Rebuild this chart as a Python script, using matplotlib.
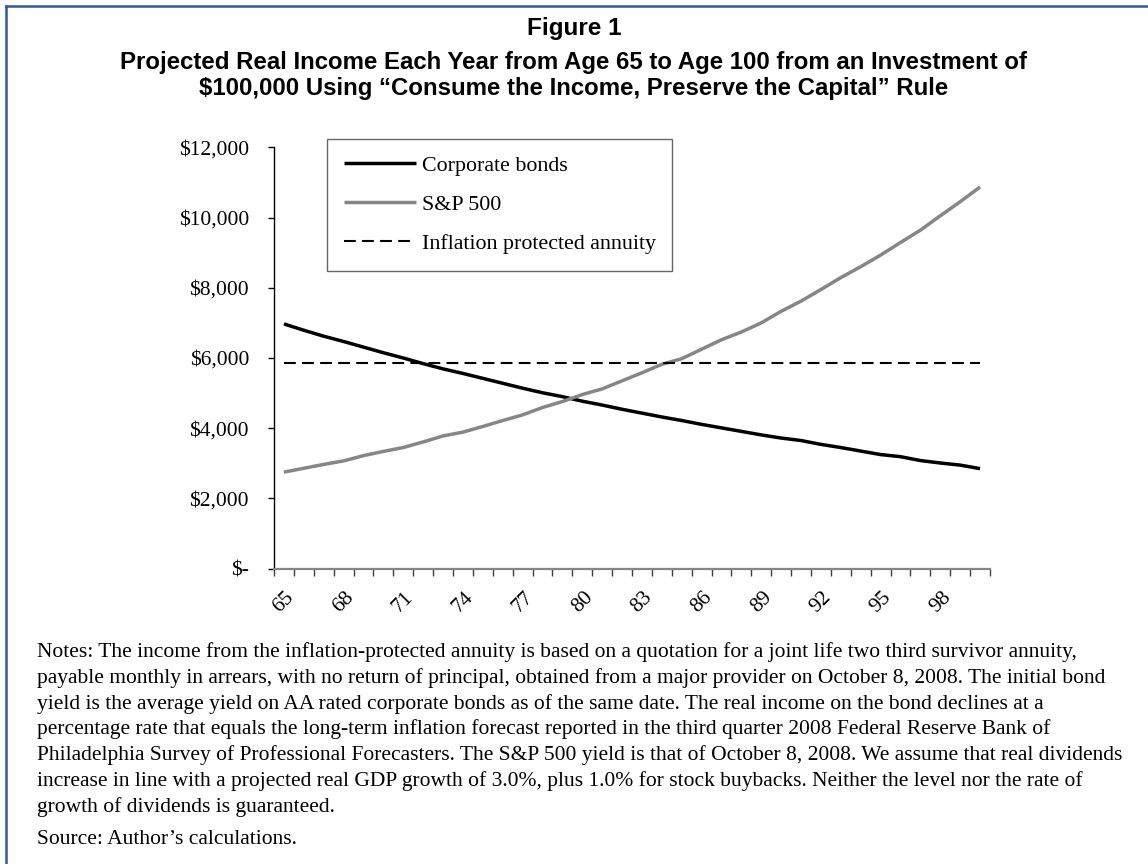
import numpy as np
import matplotlib
matplotlib.use('Agg')
import matplotlib.pyplot as plt
from matplotlib.lines import Line2D

# -------------------- Data --------------------
AGES = list(range(65, 101))
BONDS = [6970, 6790, 6620, 6470, 6310, 6150, 6000, 5840, 5690, 5560,
         5420, 5280, 5140, 5010, 4900, 4770, 4660, 4540, 4430, 4320,
         4220, 4110, 4010, 3910, 3810, 3720, 3650, 3540, 3450, 3350,
         3250, 3190, 3080, 3010, 2950, 2850]
SP500 = [2750, 2860, 2970, 3070, 3220, 3340, 3450, 3610, 3780, 3890,
         4050, 4220, 4380, 4590, 4760, 4960, 5120, 5350, 5580, 5820,
         5980, 6250, 6520, 6740, 7000, 7330, 7620, 7950, 8290, 8600,
         8930, 9290, 9640, 10050, 10450, 10870]
ANNUITY = [5850] * len(AGES)
TICK_AGES = [65, 68, 71, 74, 77, 80, 83, 86, 89, 92, 95, 98]
Y_TICKS = [0, 2000, 4000, 6000, 8000, 10000, 12000]
LABELS = ['Corporate bonds', 'S&P 500', 'Inflation protected annuity']

NOTES = [
    "Notes: The income from the inflation-protected annuity is based on a quotation for a joint life two third survivor annuity,",
    "payable monthly in arrears, with no return of principal, obtained from a major provider on October 8, 2008. The initial bond",
    "yield is the average yield on AA rated corporate bonds as of the same date. The real income on the bond declines at a",
    "percentage rate that equals the long-term inflation forecast reported in the third quarter 2008 Federal Reserve Bank of",
    "Philadelphia Survey of Professional Forecasters. The S&P 500 yield is that of October 8, 2008. We assume that real dividends",
    "increase in line with a projected real GDP growth of 3.0%, plus 1.0% for stock buybacks. Neither the level nor the rate of",
    "growth of dividends is guaranteed.",
]
SOURCE = "Source: Author\u2019s calculations."

# -------------------- Style --------------------
SERIF = 'Liberation Serif'
SANS = 'Liberation Sans'
W, H = 1148, 864
plt.rcParams['lines.scale_dashes'] = False


def fx(px):
    return px / W


def fy(py):
    return 1 - py / H


def main():
    fig = plt.figure(figsize=(W / 100, H / 100), dpi=100)

    # border (top and left only visible)
    border = '#34579A'
    fig.add_artist(Line2D([fx(6), 1], [fy(6), fy(6)], color=border, lw=1.8))
    fig.add_artist(Line2D([fx(6), fx(6)], [fy(6), 0], color=border, lw=1.8))

    # titles
    fig.text(0.5, fy(29), 'Figure 1', ha='center', va='center',
             family=SANS, weight='bold', fontsize=17.5)
    fig.text(0.5, fy(63), 'Projected Real Income Each Year from Age 65 to Age 100 from an Investment of',
             ha='center', va='center', family=SANS, weight='bold', fontsize=17.3)
    fig.text(0.5, fy(89), '$100,000 Using \u201cConsume the Income, Preserve the Capital\u201d Rule',
             ha='center', va='center', family=SANS, weight='bold', fontsize=17.3)

    ax = fig.add_axes([fx(274), fy(568.7), fx(990 - 274), (568.7 - 147.3) / H])
    x = np.arange(len(AGES))

    ax.plot(x, BONDS, color='black', lw=2.5, solid_capstyle='butt', label=LABELS[0])
    ax.plot(x, SP500, color='#868686', lw=2.5, solid_capstyle='butt', label=LABELS[1])
    ax.plot(x, ANNUITY, color='black', lw=1.5, dashes=(8.5, 4.5), label=LABELS[2])

    ax.set_xlim(-0.5, len(AGES) - 0.5)
    ax.set_ylim(0, 12000)

    # y axis
    ax.set_yticks(Y_TICKS)
    ax.set_yticklabels(['$-' if v == 0 else f'${v:,}' for v in Y_TICKS],
                       family=SERIF, fontsize=15.5)
    ax.tick_params(axis='y', direction='out', length=4, width=1, pad=14, colors='black')

    # x axis: ticks between categories, labels every third age
    ax.set_xticks(np.arange(len(AGES) + 1) - 0.5)
    ax.set_xticklabels([])
    ax.tick_params(axis='x', which='major', direction='out', length=5, width=1, color='#404040')
    pos = [AGES.index(a) for a in TICK_AGES]
    ax.set_xticks(pos, minor=True)
    ax.set_xticklabels([str(a) for a in TICK_AGES], minor=True, rotation=45,
                       ha='center', va='top', family=SERIF, fontsize=15.5)
    ax.tick_params(axis='x', which='minor', length=0, pad=14)

    for s in ['top', 'right']:
        ax.spines[s].set_visible(False)
    ax.spines['left'].set_linewidth(1)
    ax.spines['left'].set_color('black')
    ax.spines['bottom'].set_linewidth(1.6)
    ax.spines['bottom'].set_color('#868686')

    leg = ax.legend(loc='upper left', bbox_to_anchor=(fx(327.3), fy(139.3)),
                    bbox_transform=fig.transFigure, borderaxespad=0,
                    prop={'family': SERIF, 'size': 15.8}, frameon=True,
                    fancybox=False, edgecolor='#404040', handlelength=3.3,
                    handletextpad=0.25, labelspacing=0.85, borderpad=0.75)
    leg.get_frame().set_linewidth(1)

    # notes
    y0 = 652
    step = 25.8
    for i, line in enumerate(NOTES):
        fig.text(fx(37), fy(y0 + i * step), line, ha='left', va='center',
                 family=SERIF, fontsize=15.5)
    fig.text(fx(37), fy(840), SOURCE, ha='left', va='center', family=SERIF, fontsize=15.5)

    fig.savefig('out.png', dpi=100, facecolor='white')


if __name__ == "__main__":
    main()
